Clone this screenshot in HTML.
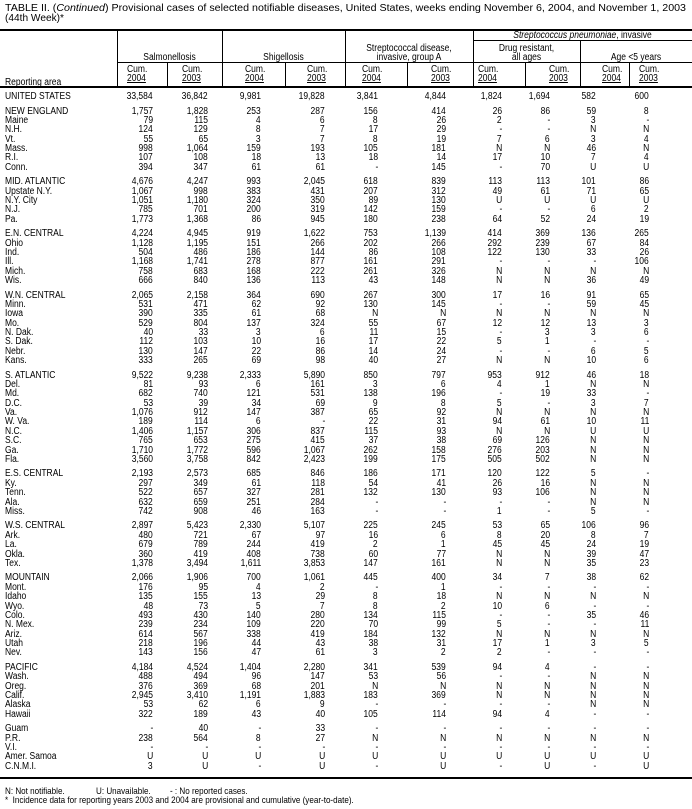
<!DOCTYPE html>
<html><head><meta charset="utf-8"><style>
body{margin:0;background:#fff;}
#p{position:relative;width:692px;height:809px;overflow:hidden;font-family:"Liberation Sans",Arial,sans-serif;font-size:10px;color:#000;}
.r{position:absolute;left:0;width:692px;height:10px;line-height:10px;white-space:nowrap;}
.r span{position:absolute;transform:scaleX(.85);transform-origin:right center;}
.r span:nth-child(1){left:5px;transform-origin:left center;}
.r span:nth-child(2){right:539px;}
.r span:nth-child(3){right:484px;}
.r span:nth-child(4){right:431px;}
.r span:nth-child(5){right:367px;}
.r span:nth-child(6){right:314px;}
.r span:nth-child(7){right:246px;}
.r span:nth-child(8){right:190px;}
.r span:nth-child(9){right:142px;}
.r span:nth-child(10){right:96px;}
.r span:nth-child(11){right:43px;}
.h{position:absolute;background:#000;}
.t{position:absolute;line-height:9px;white-space:nowrap;font-size:10px;transform:scaleX(.85);transform-origin:left top;}
.c{position:absolute;line-height:9px;text-align:center;font-size:10px;white-space:nowrap;transform:scaleX(.85);transform-origin:center top;}
.u{text-decoration:underline;}
</style></head><body><div id="p">
<svg width="692" height="28" style="position:absolute;left:0;top:0">
<text x="5" y="11" font-family="Liberation Sans, Arial, sans-serif" font-size="10.5" textLength="681" lengthAdjust="spacingAndGlyphs">TABLE II. (<tspan font-style="italic">Continued</tspan>) Provisional cases of selected notifiable diseases, United States, weeks ending November 6, 2004, and November 1, 2003</text>
<text x="5" y="21" font-family="Liberation Sans, Arial, sans-serif" font-size="10.5" textLength="59" lengthAdjust="spacingAndGlyphs">(44th Week)*</text>
</svg>
<div class="h" style="left:0;top:29px;width:692px;height:2px"></div>
<div class="h" style="left:473px;top:40px;width:219px;height:1px"></div>
<div class="h" style="left:117px;top:62px;width:575px;height:1px"></div>
<div class="h" style="left:0;top:86px;width:692px;height:2px"></div>
<div class="h" style="left:117px;top:30px;width:1px;height:56px"></div>
<div class="h" style="left:167px;top:62px;width:1px;height:24px"></div>
<div class="h" style="left:222px;top:30px;width:1px;height:56px"></div>
<div class="h" style="left:285px;top:62px;width:1px;height:24px"></div>
<div class="h" style="left:345px;top:30px;width:1px;height:56px"></div>
<div class="h" style="left:407px;top:62px;width:1px;height:24px"></div>
<div class="h" style="left:473px;top:30px;width:1px;height:56px"></div>
<div class="h" style="left:525px;top:62px;width:1px;height:24px"></div>
<div class="h" style="left:580px;top:40px;width:1px;height:46px"></div>
<div class="h" style="left:629px;top:62px;width:1px;height:24px"></div>
<div class="c" style="left:473px;top:31px;width:219px"><i>Streptococcus pneumoniae</i>, invasive</div>
<div class="c" style="left:117px;top:53px;width:105px">Salmonellosis</div>
<div class="c" style="left:222px;top:53px;width:123px">Shigellosis</div>
<div class="c" style="left:345px;top:44px;width:128px">Streptococcal disease,<br>invasive, group A</div>
<div class="c" style="left:473px;top:44px;width:107px">Drug resistant,<br>all ages</div>
<div class="c" style="left:580px;top:53px;width:112px">Age &lt;5 years</div>
<div class="t" style="left:5px;top:78px">Reporting area</div>
<div class="t" style="left:127px;top:65px">Cum.<br><span class="u">2004</span></div>
<div class="t" style="left:182px;top:65px">Cum.<br><span class="u">2003</span></div>
<div class="t" style="left:245px;top:65px">Cum.<br><span class="u">2004</span></div>
<div class="t" style="left:307px;top:65px">Cum.<br><span class="u">2003</span></div>
<div class="t" style="left:362px;top:65px">Cum.<br><span class="u">2004</span></div>
<div class="t" style="left:431px;top:65px">Cum.<br><span class="u">2003</span></div>
<div class="t" style="left:478px;top:65px">Cum.<br><span class="u">2004</span></div>
<div class="t" style="left:549px;top:65px">Cum.<br><span class="u">2003</span></div>
<div class="t" style="left:602px;top:65px">Cum.<br><span class="u">2004</span></div>
<div class="t" style="left:639px;top:65px">Cum.<br><span class="u">2003</span></div>

<div class="r" style="top:92px"><span>UNITED STATES</span><span>33,584</span><span>36,842</span><span>9,981</span><span>19,828</span><span>3,841</span><span>4,844</span><span>1,824</span><span>1,694</span><span>582</span><span>600</span></div>

<div class="r" style="top:106.6px"><span>NEW ENGLAND</span><span>1,757</span><span>1,828</span><span>253</span><span>287</span><span>156</span><span>414</span><span>26</span><span>86</span><span>59</span><span>8</span></div>
<div class="r" style="top:116px"><span>Maine</span><span>79</span><span>115</span><span>4</span><span>6</span><span>8</span><span>26</span><span>2</span><span>-</span><span>3</span><span>-</span></div>
<div class="r" style="top:125.3px"><span>N.H.</span><span>124</span><span>129</span><span>8</span><span>7</span><span>17</span><span>29</span><span>-</span><span>-</span><span>N</span><span>N</span></div>
<div class="r" style="top:134.7px"><span>Vt.</span><span>55</span><span>65</span><span>3</span><span>7</span><span>8</span><span>19</span><span>7</span><span>6</span><span>3</span><span>4</span></div>
<div class="r" style="top:144px"><span>Mass.</span><span>998</span><span>1,064</span><span>159</span><span>193</span><span>105</span><span>181</span><span>N</span><span>N</span><span>46</span><span>N</span></div>
<div class="r" style="top:153.4px"><span>R.I.</span><span>107</span><span>108</span><span>18</span><span>13</span><span>18</span><span>14</span><span>17</span><span>10</span><span>7</span><span>4</span></div>
<div class="r" style="top:162.7px"><span>Conn.</span><span>394</span><span>347</span><span>61</span><span>61</span><span>-</span><span>145</span><span>-</span><span>70</span><span>U</span><span>U</span></div>

<div class="r" style="top:177.3px"><span>MID. ATLANTIC</span><span>4,676</span><span>4,247</span><span>993</span><span>2,045</span><span>618</span><span>839</span><span>113</span><span>113</span><span>101</span><span>86</span></div>
<div class="r" style="top:186.7px"><span>Upstate N.Y.</span><span>1,067</span><span>998</span><span>383</span><span>431</span><span>207</span><span>312</span><span>49</span><span>61</span><span>71</span><span>65</span></div>
<div class="r" style="top:196px"><span>N.Y. City</span><span>1,051</span><span>1,180</span><span>324</span><span>350</span><span>89</span><span>130</span><span>U</span><span>U</span><span>U</span><span>U</span></div>
<div class="r" style="top:205.4px"><span>N.J.</span><span>785</span><span>701</span><span>200</span><span>319</span><span>142</span><span>159</span><span>-</span><span>-</span><span>6</span><span>2</span></div>
<div class="r" style="top:214.7px"><span>Pa.</span><span>1,773</span><span>1,368</span><span>86</span><span>945</span><span>180</span><span>238</span><span>64</span><span>52</span><span>24</span><span>19</span></div>

<div class="r" style="top:229.3px"><span>E.N. CENTRAL</span><span>4,224</span><span>4,945</span><span>919</span><span>1,622</span><span>753</span><span>1,139</span><span>414</span><span>369</span><span>136</span><span>265</span></div>
<div class="r" style="top:238.7px"><span>Ohio</span><span>1,128</span><span>1,195</span><span>151</span><span>266</span><span>202</span><span>266</span><span>292</span><span>239</span><span>67</span><span>84</span></div>
<div class="r" style="top:248px"><span>Ind.</span><span>504</span><span>486</span><span>186</span><span>144</span><span>86</span><span>108</span><span>122</span><span>130</span><span>33</span><span>26</span></div>
<div class="r" style="top:257.4px"><span>Ill.</span><span>1,168</span><span>1,741</span><span>278</span><span>877</span><span>161</span><span>291</span><span>-</span><span>-</span><span>-</span><span>106</span></div>
<div class="r" style="top:266.7px"><span>Mich.</span><span>758</span><span>683</span><span>168</span><span>222</span><span>261</span><span>326</span><span>N</span><span>N</span><span>N</span><span>N</span></div>
<div class="r" style="top:276px"><span>Wis.</span><span>666</span><span>840</span><span>136</span><span>113</span><span>43</span><span>148</span><span>N</span><span>N</span><span>36</span><span>49</span></div>

<div class="r" style="top:290.7px"><span>W.N. CENTRAL</span><span>2,065</span><span>2,158</span><span>364</span><span>690</span><span>267</span><span>300</span><span>17</span><span>16</span><span>91</span><span>65</span></div>
<div class="r" style="top:300px"><span>Minn.</span><span>531</span><span>471</span><span>62</span><span>92</span><span>130</span><span>145</span><span>-</span><span>-</span><span>59</span><span>45</span></div>
<div class="r" style="top:309.4px"><span>Iowa</span><span>390</span><span>335</span><span>61</span><span>68</span><span>N</span><span>N</span><span>N</span><span>N</span><span>N</span><span>N</span></div>
<div class="r" style="top:318.7px"><span>Mo.</span><span>529</span><span>804</span><span>137</span><span>324</span><span>55</span><span>67</span><span>12</span><span>12</span><span>13</span><span>3</span></div>
<div class="r" style="top:328px"><span>N. Dak.</span><span>40</span><span>33</span><span>3</span><span>6</span><span>11</span><span>15</span><span>-</span><span>3</span><span>3</span><span>6</span></div>
<div class="r" style="top:337.4px"><span>S. Dak.</span><span>112</span><span>103</span><span>10</span><span>16</span><span>17</span><span>22</span><span>5</span><span>1</span><span>-</span><span>-</span></div>
<div class="r" style="top:346.7px"><span>Nebr.</span><span>130</span><span>147</span><span>22</span><span>86</span><span>14</span><span>24</span><span>-</span><span>-</span><span>6</span><span>5</span></div>
<div class="r" style="top:356.1px"><span>Kans.</span><span>333</span><span>265</span><span>69</span><span>98</span><span>40</span><span>27</span><span>N</span><span>N</span><span>10</span><span>6</span></div>

<div class="r" style="top:370.7px"><span>S. ATLANTIC</span><span>9,522</span><span>9,238</span><span>2,333</span><span>5,890</span><span>850</span><span>797</span><span>953</span><span>912</span><span>46</span><span>18</span></div>
<div class="r" style="top:380px"><span>Del.</span><span>81</span><span>93</span><span>6</span><span>161</span><span>3</span><span>6</span><span>4</span><span>1</span><span>N</span><span>N</span></div>
<div class="r" style="top:389.4px"><span>Md.</span><span>682</span><span>740</span><span>121</span><span>531</span><span>138</span><span>196</span><span>-</span><span>19</span><span>33</span><span>-</span></div>
<div class="r" style="top:398.7px"><span>D.C.</span><span>53</span><span>39</span><span>34</span><span>69</span><span>9</span><span>8</span><span>5</span><span>-</span><span>3</span><span>7</span></div>
<div class="r" style="top:408.1px"><span>Va.</span><span>1,076</span><span>912</span><span>147</span><span>387</span><span>65</span><span>92</span><span>N</span><span>N</span><span>N</span><span>N</span></div>
<div class="r" style="top:417.4px"><span>W. Va.</span><span>189</span><span>114</span><span>6</span><span>-</span><span>22</span><span>31</span><span>94</span><span>61</span><span>10</span><span>11</span></div>
<div class="r" style="top:426.8px"><span>N.C.</span><span>1,406</span><span>1,157</span><span>306</span><span>837</span><span>115</span><span>93</span><span>N</span><span>N</span><span>U</span><span>U</span></div>
<div class="r" style="top:436.1px"><span>S.C.</span><span>765</span><span>653</span><span>275</span><span>415</span><span>37</span><span>38</span><span>69</span><span>126</span><span>N</span><span>N</span></div>
<div class="r" style="top:445.5px"><span>Ga.</span><span>1,710</span><span>1,772</span><span>596</span><span>1,067</span><span>262</span><span>158</span><span>276</span><span>203</span><span>N</span><span>N</span></div>
<div class="r" style="top:454.8px"><span>Fla.</span><span>3,560</span><span>3,758</span><span>842</span><span>2,423</span><span>199</span><span>175</span><span>505</span><span>502</span><span>N</span><span>N</span></div>

<div class="r" style="top:469.4px"><span>E.S. CENTRAL</span><span>2,193</span><span>2,573</span><span>685</span><span>846</span><span>186</span><span>171</span><span>120</span><span>122</span><span>5</span><span>-</span></div>
<div class="r" style="top:478.8px"><span>Ky.</span><span>297</span><span>349</span><span>61</span><span>118</span><span>54</span><span>41</span><span>26</span><span>16</span><span>N</span><span>N</span></div>
<div class="r" style="top:488.1px"><span>Tenn.</span><span>522</span><span>657</span><span>327</span><span>281</span><span>132</span><span>130</span><span>93</span><span>106</span><span>N</span><span>N</span></div>
<div class="r" style="top:497.5px"><span>Ala.</span><span>632</span><span>659</span><span>251</span><span>284</span><span>-</span><span>-</span><span>-</span><span>-</span><span>N</span><span>N</span></div>
<div class="r" style="top:506.8px"><span>Miss.</span><span>742</span><span>908</span><span>46</span><span>163</span><span>-</span><span>-</span><span>1</span><span>-</span><span>5</span><span>-</span></div>

<div class="r" style="top:521.4px"><span>W.S. CENTRAL</span><span>2,897</span><span>5,423</span><span>2,330</span><span>5,107</span><span>225</span><span>245</span><span>53</span><span>65</span><span>106</span><span>96</span></div>
<div class="r" style="top:530.8px"><span>Ark.</span><span>480</span><span>721</span><span>67</span><span>97</span><span>16</span><span>6</span><span>8</span><span>20</span><span>8</span><span>7</span></div>
<div class="r" style="top:540.1px"><span>La.</span><span>679</span><span>789</span><span>244</span><span>419</span><span>2</span><span>1</span><span>45</span><span>45</span><span>24</span><span>19</span></div>
<div class="r" style="top:549.5px"><span>Okla.</span><span>360</span><span>419</span><span>408</span><span>738</span><span>60</span><span>77</span><span>N</span><span>N</span><span>39</span><span>47</span></div>
<div class="r" style="top:558.8px"><span>Tex.</span><span>1,378</span><span>3,494</span><span>1,611</span><span>3,853</span><span>147</span><span>161</span><span>N</span><span>N</span><span>35</span><span>23</span></div>

<div class="r" style="top:573.4px"><span>MOUNTAIN</span><span>2,066</span><span>1,906</span><span>700</span><span>1,061</span><span>445</span><span>400</span><span>34</span><span>7</span><span>38</span><span>62</span></div>
<div class="r" style="top:582.8px"><span>Mont.</span><span>176</span><span>95</span><span>4</span><span>2</span><span>-</span><span>1</span><span>-</span><span>-</span><span>-</span><span>-</span></div>
<div class="r" style="top:592.1px"><span>Idaho</span><span>135</span><span>155</span><span>13</span><span>29</span><span>8</span><span>18</span><span>N</span><span>N</span><span>N</span><span>N</span></div>
<div class="r" style="top:601.5px"><span>Wyo.</span><span>48</span><span>73</span><span>5</span><span>7</span><span>8</span><span>2</span><span>10</span><span>6</span><span>-</span><span>-</span></div>
<div class="r" style="top:610.8px"><span>Colo.</span><span>493</span><span>430</span><span>140</span><span>280</span><span>134</span><span>115</span><span>-</span><span>-</span><span>35</span><span>46</span></div>
<div class="r" style="top:620.2px"><span>N. Mex.</span><span>239</span><span>234</span><span>109</span><span>220</span><span>70</span><span>99</span><span>5</span><span>-</span><span>-</span><span>11</span></div>
<div class="r" style="top:629.5px"><span>Ariz.</span><span>614</span><span>567</span><span>338</span><span>419</span><span>184</span><span>132</span><span>N</span><span>N</span><span>N</span><span>N</span></div>
<div class="r" style="top:638.9px"><span>Utah</span><span>218</span><span>196</span><span>44</span><span>43</span><span>38</span><span>31</span><span>17</span><span>1</span><span>3</span><span>5</span></div>
<div class="r" style="top:648.2px"><span>Nev.</span><span>143</span><span>156</span><span>47</span><span>61</span><span>3</span><span>2</span><span>2</span><span>-</span><span>-</span><span>-</span></div>

<div class="r" style="top:662.8px"><span>PACIFIC</span><span>4,184</span><span>4,524</span><span>1,404</span><span>2,280</span><span>341</span><span>539</span><span>94</span><span>4</span><span>-</span><span>-</span></div>
<div class="r" style="top:672.2px"><span>Wash.</span><span>488</span><span>494</span><span>96</span><span>147</span><span>53</span><span>56</span><span>-</span><span>-</span><span>N</span><span>N</span></div>
<div class="r" style="top:681.5px"><span>Oreg.</span><span>376</span><span>369</span><span>68</span><span>201</span><span>N</span><span>N</span><span>N</span><span>N</span><span>N</span><span>N</span></div>
<div class="r" style="top:690.9px"><span>Calif.</span><span>2,945</span><span>3,410</span><span>1,191</span><span>1,883</span><span>183</span><span>369</span><span>N</span><span>N</span><span>N</span><span>N</span></div>
<div class="r" style="top:700.2px"><span>Alaska</span><span>53</span><span>62</span><span>6</span><span>9</span><span>-</span><span>-</span><span>-</span><span>-</span><span>N</span><span>N</span></div>
<div class="r" style="top:709.6px"><span>Hawaii</span><span>322</span><span>189</span><span>43</span><span>40</span><span>105</span><span>114</span><span>94</span><span>4</span><span>-</span><span>-</span></div>

<div class="r" style="top:724.2px"><span>Guam</span><span>-</span><span>40</span><span>-</span><span>33</span><span>-</span><span>-</span><span>-</span><span>-</span><span>-</span><span>-</span></div>
<div class="r" style="top:733.5px"><span>P.R.</span><span>238</span><span>564</span><span>8</span><span>27</span><span>N</span><span>N</span><span>N</span><span>N</span><span>N</span><span>N</span></div>
<div class="r" style="top:742.9px"><span>V.I.</span><span>-</span><span>-</span><span>-</span><span>-</span><span>-</span><span>-</span><span>-</span><span>-</span><span>-</span><span>-</span></div>
<div class="r" style="top:752.2px"><span>Amer. Samoa</span><span>U</span><span>U</span><span>U</span><span>U</span><span>U</span><span>U</span><span>U</span><span>U</span><span>U</span><span>U</span></div>
<div class="r" style="top:761.6px"><span>C.N.M.I.</span><span>3</span><span>U</span><span>-</span><span>U</span><span>-</span><span>U</span><span>-</span><span>U</span><span>-</span><span>U</span></div>

<div class="h" style="left:0;top:777px;width:692px;height:2px"></div>
<div class="t" style="left:5px;top:787px;font-size:9.5px">N: Not notifiable.</div>
<div class="t" style="left:96px;top:787px;font-size:9.5px">U: Unavailable.</div>
<div class="t" style="left:170px;top:787px;font-size:9.5px">- : No reported cases.</div>
<div class="t" style="left:5px;top:796px;font-size:9.5px">*&nbsp; Incidence data for reporting years 2003 and 2004 are provisional and cumulative (year-to-date).</div>
</div></body></html>
